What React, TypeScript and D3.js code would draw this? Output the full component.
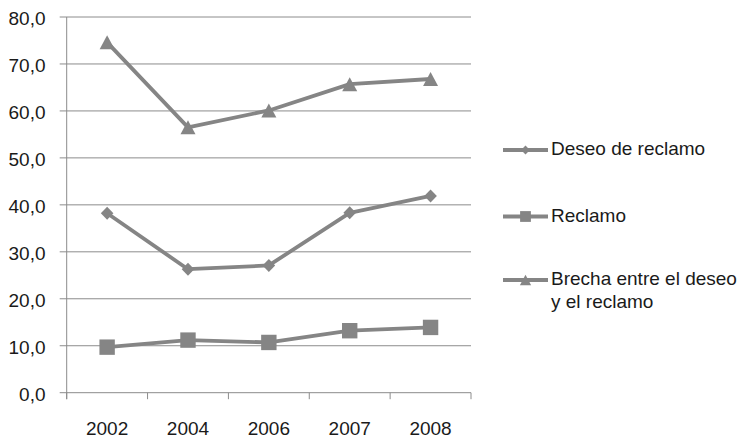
import React, { useEffect, useRef } from "react";
import * as d3 from "d3";

const categories = ["2002", "2004", "2006", "2007", "2008"];
const deseo = [38.2, 26.3, 27.1, 38.3, 41.9];
const reclamo = [9.7, 11.2, 10.7, 13.2, 13.9];
const brecha = [74.6, 56.5, 60.1, 65.7, 66.8];
const yTicks = [0, 10, 20, 30, 40, 50, 60, 70, 80];
const seriesNames = ["Deseo de reclamo", "Reclamo", "Brecha entre el deseo|y el reclamo"];

function markerPath(k: number, s: number) {
  if (k === 0) {
    const w = 6.3 * s, h = 6.5 * s;
    return `M0,${-h}L${w},0L0,${h}L${-w},0Z`;
  }
  if (k === 1) {
    const a = 7.7 * s;
    return `M${-a},${-a}H${a}V${a}H${-a}Z`;
  }
  const w = 7.5 * s, h = 7 * s;
  return `M0,${-h}L${w},${h}H${-w}Z`;
}

export default function App() {
  const ref = useRef<SVGSVGElement>(null);
  useEffect(() => {
    document.body.style.margin = "0";
    document.body.style.overflow = "hidden";
    const svg = d3.select(ref.current);
    svg.selectAll("*").remove();
    const W = 748, H = 437;
    const left = 66.7, right = 471, top = 17, bottom = 392.7;
    const gray = "#858585";
    const gridC = "#8c8c8c";
    const font = "'Liberation Sans', Arial, sans-serif";
    svg.append("rect").attr("width", W).attr("height", H).attr("fill", "#fff");

    const x = d3.scaleBand().domain(categories).range([left, right]);
    const y = d3.scaleLinear().domain([0, 80]).range([bottom, top]);

    svg.append("g").selectAll("line").data(yTicks).join("line")
      .attr("x1", left - 7).attr("x2", right)
      .attr("y1", d => y(d)).attr("y2", d => y(d))
      .attr("stroke", gridC).attr("stroke-width", 1);
    svg.append("g").selectAll("text").data(yTicks).join("text")
      .attr("x", 45.5).attr("y", d => y(d) + 8)
      .attr("text-anchor", "end").attr("font-family", font).attr("font-size", 19)
      .attr("fill", "#1a1a1a").text(d => d3.format(".1f")(d).replace(".", ","));
    svg.append("line").attr("x1", left).attr("x2", left).attr("y1", top).attr("y2", bottom + 6.5)
      .attr("stroke", gridC);
    const edges = categories.map(c => x(c)!).concat([right]);
    svg.append("g").selectAll("line").data(edges).join("line")
      .attr("x1", d => d).attr("x2", d => d).attr("y1", bottom).attr("y2", bottom + 6.5)
      .attr("stroke", gridC);
    svg.append("g").selectAll("text").data(categories).join("text")
      .attr("x", d => x(d)! + x.bandwidth() / 2).attr("y", 434.5)
      .attr("text-anchor", "middle").attr("font-family", font).attr("font-size", 19)
      .attr("fill", "#1a1a1a").text(d => d);

    const cx = (i: number) => x(categories[i])! + x.bandwidth() / 2;
    const line = d3.line<number>().x((_, i) => cx(i)).y(d => y(d));
    const allSeries = [deseo, reclamo, brecha];
    allSeries.forEach((s, k) => {
      svg.append("path").datum(s).attr("d", line).attr("fill", "none")
        .attr("stroke", gray).attr("stroke-width", 3.8).attr("stroke-linejoin", "round");
      svg.append("g").selectAll("path").data(s).join("path")
        .attr("transform", (d, i) => `translate(${cx(i)},${y(d)})`)
        .attr("d", markerPath(k, 1))
        .attr("fill", gray);
    });

    const legY = [150, 216.5, 280];
    const baseY = [155, 221.5, 284.5];
    const legScale = [0.7, 0.7, 0.75];
    seriesNames.forEach((name, k) => {
      const g = svg.append("g");
      g.append("line").attr("x1", 503).attr("x2", 548).attr("y1", legY[k]).attr("y2", legY[k])
        .attr("stroke", gray).attr("stroke-width", 3.8);
      g.append("path").attr("transform", `translate(525.5,${legY[k]})`)
        .attr("d", markerPath(k, legScale[k]))
        .attr("fill", gray);
      name.split("|").forEach((t, j) => {
        g.append("text").attr("x", 551).attr("y", baseY[k] + j * 23)
          .attr("font-family", font).attr("font-size", 19).attr("fill", "#1a1a1a").text(t);
      });
    });
  }, []);
  return (
    <svg
      ref={ref}
      width={748}
      height={437}
      style={{ display: "block", position: "absolute", left: 0, top: 0 }}
    />
  );
}
